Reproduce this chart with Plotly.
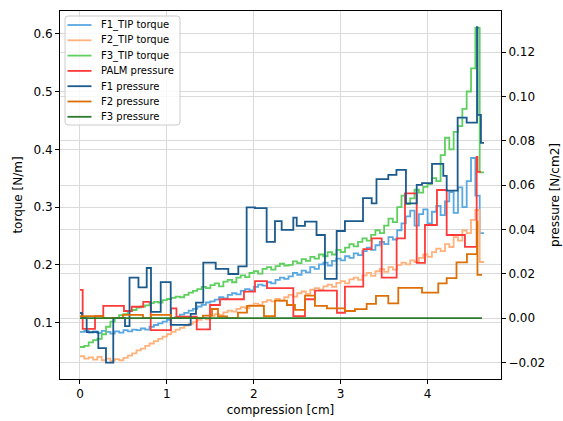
import plotly.graph_objects as go

# ---------------- data ----------------
torque_x = [0.00, 0.05, 0.10, 0.15, 0.20, 0.25, 0.30, 0.35, 0.40, 0.45,
            0.50, 0.55, 0.60, 0.65, 0.70, 0.75, 0.80, 0.85, 0.90, 0.95,
            1.00, 1.05, 1.10, 1.15, 1.20, 1.25, 1.30, 1.35, 1.40, 1.45,
            1.50, 1.55, 1.60, 1.65, 1.70, 1.75, 1.80, 1.85, 1.90, 1.95,
            2.00, 2.05, 2.10, 2.15, 2.20, 2.25, 2.30, 2.35, 2.40, 2.45,
            2.50, 2.55, 2.60, 2.65, 2.70, 2.75, 2.80, 2.85, 2.90, 2.95,
            3.00, 3.05, 3.10, 3.15, 3.20, 3.25, 3.30, 3.35, 3.40, 3.45,
            3.50, 3.55, 3.60, 3.65, 3.70, 3.75, 3.80, 3.85, 3.90, 3.95,
            4.00, 4.05, 4.10, 4.15, 4.20, 4.25, 4.30, 4.35, 4.40, 4.45,
            4.50, 4.55, 4.60, 4.65]

f1_tip_torque = [0.084, 0.086, 0.083, 0.085, 0.082, 0.086, 0.084, 0.081, 0.085, 0.083,
                 0.087, 0.085, 0.088, 0.087, 0.090, 0.088, 0.093, 0.096, 0.099, 0.102,
                 0.105, 0.108, 0.110, 0.114, 0.117, 0.121, 0.124, 0.128, 0.131, 0.135,
                 0.137, 0.140, 0.144, 0.142, 0.148, 0.151, 0.149, 0.155, 0.158, 0.156,
                 0.162, 0.166, 0.164, 0.170, 0.168, 0.174, 0.178, 0.176, 0.180, 0.186,
                 0.183, 0.190, 0.187, 0.196, 0.193, 0.201, 0.204, 0.199, 0.207, 0.211,
                 0.208, 0.215, 0.212, 0.220, 0.217, 0.224, 0.230, 0.226, 0.234, 0.240,
                 0.236, 0.248, 0.244, 0.260, 0.272, 0.284, 0.294, 0.268, 0.288, 0.296,
                 0.272, 0.292, 0.302, 0.286, 0.310, 0.326, 0.290, 0.334, 0.300, 0.345,
                 0.385, 0.320, 0.255, 0.255]

f2_tip_torque = [0.042, 0.038, 0.040, 0.036, 0.041, 0.035, 0.038, 0.034, 0.037, 0.035,
                 0.039, 0.043, 0.047, 0.052, 0.055, 0.060, 0.064, 0.068, 0.072, 0.076,
                 0.080, 0.084, 0.088, 0.091, 0.095, 0.098, 0.101, 0.105, 0.108, 0.106,
                 0.112, 0.115, 0.113, 0.118, 0.121, 0.119, 0.124, 0.127, 0.125, 0.130,
                 0.133, 0.131, 0.136, 0.139, 0.137, 0.141, 0.138, 0.144, 0.148, 0.145,
                 0.151, 0.154, 0.150, 0.157, 0.160, 0.157, 0.163, 0.166, 0.162, 0.169,
                 0.172, 0.168, 0.175, 0.178, 0.174, 0.182, 0.186, 0.181, 0.189, 0.193,
                 0.188, 0.196, 0.192, 0.200, 0.204, 0.201, 0.208, 0.205, 0.212, 0.218,
                 0.214, 0.222, 0.228, 0.224, 0.236, 0.231, 0.248, 0.242, 0.260, 0.255,
                 0.278, 0.295, 0.205, 0.205]

f3_tip_torque = [0.058, 0.060, 0.066, 0.070, 0.072, 0.080, 0.093, 0.102, 0.108, 0.113,
                 0.115, 0.120, 0.122, 0.126, 0.128, 0.130, 0.134, 0.136, 0.135, 0.139,
                 0.141, 0.143, 0.145, 0.144, 0.148, 0.152, 0.155, 0.158, 0.162, 0.160,
                 0.165, 0.168, 0.163, 0.171, 0.174, 0.170, 0.178, 0.182, 0.179, 0.186,
                 0.189, 0.185, 0.193, 0.196, 0.192, 0.198, 0.202, 0.199, 0.200, 0.206,
                 0.203, 0.210, 0.207, 0.214, 0.211, 0.218, 0.215, 0.222, 0.218, 0.226,
                 0.222, 0.230, 0.236, 0.232, 0.240, 0.246, 0.242, 0.252, 0.260, 0.255,
                 0.268, 0.280, 0.274, 0.300, 0.320, 0.305, 0.315, 0.330, 0.325, 0.335,
                 0.340, 0.350, 0.345, 0.390, 0.420, 0.400, 0.430, 0.440, 0.470, 0.500,
                 0.540, 0.610, 0.360, 0.360]

palm_x = [0.0, 0.031, 0.173, 0.268, 0.506, 0.595, 0.728, 0.814, 1.047, 1.110,
          1.343, 1.496, 1.611, 1.887, 2.014, 2.152, 2.455, 2.589, 2.704, 2.957,
          3.049, 3.260, 3.357, 3.472, 3.644, 3.740, 3.875, 3.970, 4.108, 4.220,
          4.430, 4.565, 4.574, 4.614]
palm_pressure = [0.0127, -0.0049, 0.0009, 0.0055, 0.0032, 0.0051, 0.0073, -0.0054, 0.0044, 0.0006,
                 -0.0051, 0.0059, 0.0085, 0.0119, 0.0167, 0.0135, 0.0009, 0.0085, 0.0124, 0.0024,
                 0.0142, 0.0311, 0.0360, 0.0183, 0.0360, 0.0563, 0.0249, 0.0420, 0.0578, 0.0375,
                 0.0321, 0.0727, 0.0660, 0.0660]

f1p_x = [0.0, 0.023, 0.077, 0.211, 0.299, 0.383, 0.518, 0.570, 0.673, 0.768,
         0.817, 0.929, 1.044, 1.274, 1.335, 1.419, 1.562, 1.707, 1.822, 1.918,
         2.014, 2.148, 2.244, 2.321, 2.455, 2.494, 2.589, 2.722, 2.819, 2.954,
         3.049, 3.257, 3.357, 3.412, 3.548, 3.642, 3.751, 3.875, 3.936, 4.051,
         4.181, 4.220, 4.346, 4.450, 4.569, 4.574, 4.614, 4.649]
f1_pressure = [0.0023, 0.0, -0.0063, -0.0136, -0.0201, 0.0, -0.0036, 0.0183, 0.0139, 0.0226,
               0.0028, 0.0162, -0.0031, 0.0019, 0.0070, 0.0250, 0.0222, 0.0199, 0.0233, 0.0500,
               0.0496, 0.0344, 0.0438, 0.0398, 0.0453, 0.0416, 0.0435, 0.0375, 0.0177, 0.0393,
               0.0438, 0.0541, 0.0518, 0.0627, 0.0646, 0.0669, 0.0518, 0.0601, 0.0609, 0.0696,
               0.0642, 0.0575, 0.0905, 0.0882, 0.1313, 0.0917, 0.0791, 0.0791]

f2p_x = [0.0, 0.268, 0.495, 0.725, 0.817, 1.047, 1.415, 1.519, 1.588, 1.692,
         1.818, 1.922, 2.117, 2.244, 2.382, 2.474, 2.589, 2.704, 2.842, 3.049,
         3.164, 3.299, 3.406, 3.548, 3.663, 3.936, 4.123, 4.220, 4.333, 4.453,
         4.569, 4.574, 4.626]
f2_pressure = [0.0009, 0.0, 0.0014, 0.0, 0.0014, 0.0, 0.0011, 0.0041, 0.0007, 0.0,
               0.0025, 0.0055, 0.0009, 0.0079, 0.0059, 0.0037, 0.0101, 0.0055, 0.0044, 0.0032,
               0.0040, 0.0064, 0.0100, 0.0066, 0.0136, 0.0115, 0.0157, 0.0180, 0.0251, 0.0289,
               0.0435, 0.0195, 0.0195]

f3p_x = [0.0, 4.626]
f3_pressure = [0.0, 0.0]

left_ticks = [0.1, 0.2, 0.3, 0.4, 0.5, 0.6]
left_ticktext = ["0.1", "0.2", "0.3", "0.4", "0.5", "0.6"]
right_ticks = [-0.02, 0.0, 0.02, 0.04, 0.06, 0.08, 0.10, 0.12]
right_ticktext = ["\u22120.02", "0.00", "0.02", "0.04", "0.06", "0.08", "0.10", "0.12"]
x_ticks = [0, 1, 2, 3, 4]

# ---------------- figure ----------------
W, H = 563, 421
ML, MR, MT, MB = 60, 62, 11, 42
PW, PH = W - ML - MR, H - MT - MB
LW = 1.8

series = [
    ("F1_TIP torque", torque_x, f1_tip_torque, "y", "#5aa8e2"),
    ("F2_TIP torque", torque_x, f2_tip_torque, "y", "#ffb27c"),
    ("F3_TIP torque", torque_x, f3_tip_torque, "y", "#5fd05f"),
    ("PALM pressure", palm_x, palm_pressure, "y2", "#ff3a3a"),
    ("F1 pressure", f1p_x, f1_pressure, "y2", "#1b5a8c"),
    ("F2 pressure", f2p_x, f2_pressure, "y2", "#dd6f05"),
    ("F3 pressure", f3p_x, f3_pressure, "y2", "#2b7a2b"),
]

fig = go.Figure()
for name, xs, ys, ax, col in series:
    fig.add_trace(go.Scatter(x=xs, y=ys, name=name, mode="lines", yaxis=ax,
                             line=dict(color=col, width=LW, shape="hv"), showlegend=False))

# ---- legend drawn in pixel space (converted to paper units) ----
def px(xp):
    return (xp - ML) / PW

def py(yp):
    return (H - MB - yp) / PH

shapes = []
annotations = []
bx0, bx1, by0, by1, r = 65, 180, 16, 125, 3
path = (f"M {px(bx0 + r)} {py(by0)} L {px(bx1 - r)} {py(by0)} "
        f"Q {px(bx1)} {py(by0)} {px(bx1)} {py(by0 + r)} L {px(bx1)} {py(by1 - r)} "
        f"Q {px(bx1)} {py(by1)} {px(bx1 - r)} {py(by1)} L {px(bx0 + r)} {py(by1)} "
        f"Q {px(bx0)} {py(by1)} {px(bx0)} {py(by1 - r)} L {px(bx0)} {py(by0 + r)} "
        f"Q {px(bx0)} {py(by0)} {px(bx0 + r)} {py(by0)} Z")
shapes.append(dict(type="path", xref="paper", yref="paper", path=path,
                   fillcolor="rgba(255,255,255,0.8)", line=dict(color="#cccccc", width=1),
                   layer="above"))
for i, (name, xs, ys, ax, col) in enumerate(series):
    yc = 25 + i * 15.3
    shapes.append(dict(type="line", xref="paper", yref="paper",
                       x0=px(67.5), x1=px(91.5), y0=py(yc), y1=py(yc),
                       line=dict(color=col, width=LW), layer="above"))
    annotations.append(dict(xref="paper", yref="paper", x=px(99), y=py(yc), text=name,
                            showarrow=False, xanchor="left", yanchor="middle",
                            font=dict(size=10, family="DejaVu Sans", color="black")))

grid = "#dadada"
title_font = dict(size=12, family="DejaVu Sans", color="black")
fig.update_layout(
    width=W, height=H,
    margin=dict(l=ML, r=MR, t=MT, b=MB, autoexpand=False),
    plot_bgcolor="white", paper_bgcolor="white",
    font=dict(family="DejaVu Sans", size=12, color="black"),
    xaxis=dict(range=[-0.230, 4.845], tickvals=x_ticks, showgrid=True, gridcolor=grid, gridwidth=1,
               zeroline=False, showline=True, linecolor="black", linewidth=1, mirror=True,
               ticks="outside", ticklen=4, tickcolor="black", automargin=False,
               title=dict(text="compression [cm]", standoff=5, font=title_font)),
    yaxis=dict(range=[0.0026, 0.6393], tickvals=left_ticks, ticktext=left_ticktext,
               showgrid=True, gridcolor=grid, gridwidth=1, zeroline=False,
               showline=True, linecolor="black", linewidth=1, mirror=True,
               ticks="outside", ticklen=4, tickcolor="black", automargin=False,
               title=dict(text="torque [N/m]", standoff=8, font=title_font)),
    yaxis2=dict(range=[-0.0275, 0.1386], tickvals=right_ticks, ticktext=right_ticktext,
                overlaying="y", side="right", showgrid=True, gridcolor=grid, gridwidth=1,
                zeroline=False, showline=True, linecolor="black", linewidth=1,
                ticks="outside", ticklen=4, tickcolor="black", automargin=False,
                title=dict(text="pressure [N/cm2]", standoff=6, font=title_font)),
    shapes=shapes,
    annotations=annotations,
    showlegend=False,
)

fig.write_html("out.html", config={"displayModeBar": False},
               post_script="document.body.style.margin='0px';")
